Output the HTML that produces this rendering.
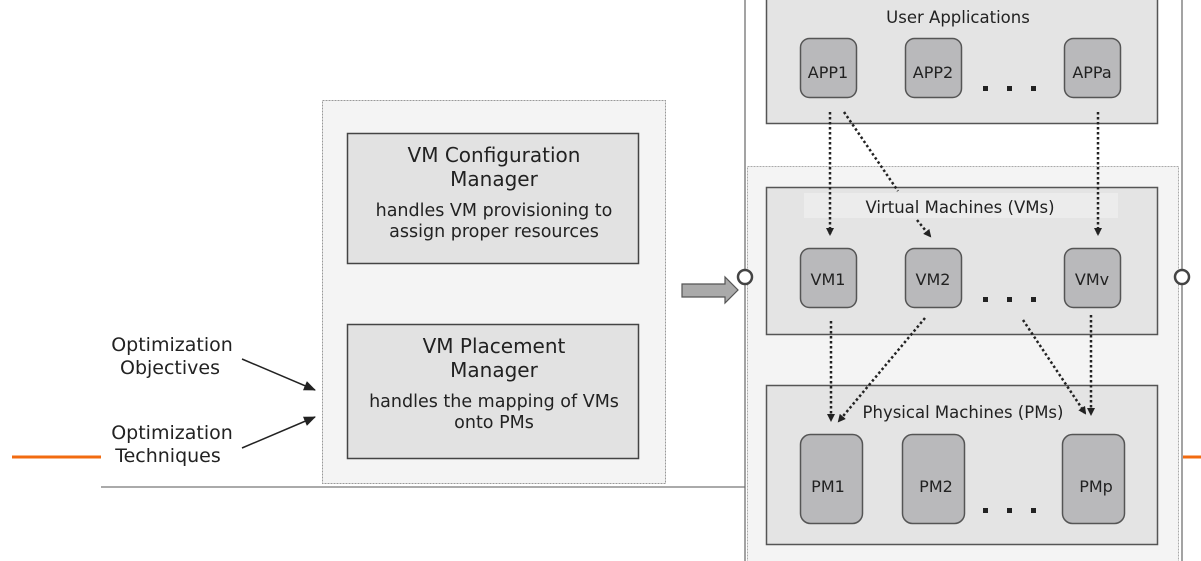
<!DOCTYPE html>
<html><head><meta charset="utf-8"><style>
html,body{margin:0;padding:0;background:#fff;width:1201px;height:561px;overflow:hidden}
svg{display:block}
text{font-family:"DejaVu Sans","Liberation Sans",sans-serif;fill:#222;text-anchor:middle}
</style></head><body>
<svg width="1201" height="561" viewBox="0 0 1201 561" xmlns="http://www.w3.org/2000/svg">
<defs>
<marker id="ah" markerWidth="8" markerHeight="8" refX="6" refY="4" orient="auto" markerUnits="userSpaceOnUse"><path d="M0,0 L8,4 L0,8 z" fill="#222"/></marker>
<marker id="ab" markerWidth="12" markerHeight="10" refX="11" refY="5" orient="auto" markerUnits="userSpaceOnUse"><path d="M0,0 L12,5 L0,10 z" fill="#222"/></marker>
</defs>
<line x1="12" y1="457" x2="101" y2="457" stroke="#f26b10" stroke-width="3"/>
<line x1="1183" y1="457" x2="1201" y2="457" stroke="#f26b10" stroke-width="3"/>
<line x1="101" y1="487" x2="745" y2="487" stroke="#777" stroke-width="1.2"/>
<rect x="322.5" y="100.5" width="343" height="383" fill="#f4f4f4" stroke="#999" stroke-dasharray="2,1"/>
<rect x="347.5" y="133.5" width="291" height="130" fill="#e2e2e2" stroke="#444" stroke-width="1.5"/>
<text x="494" y="162" font-size="20">VM Configuration</text>
<text x="494" y="186" font-size="20">Manager</text>
<text x="494" y="216" font-size="17.5">handles VM provisioning to</text>
<text x="494" y="237" font-size="17.5">assign proper resources</text>
<rect x="347.5" y="324.5" width="291" height="134" fill="#e2e2e2" stroke="#444" stroke-width="1.5"/>
<text x="494" y="353" font-size="20">VM Placement</text>
<text x="494" y="377" font-size="20">Manager</text>
<text x="494" y="407" font-size="17.5">handles the mapping of VMs</text>
<text x="494" y="428" font-size="17.5">onto PMs</text>
<text x="172" y="351" font-size="19">Optimization</text>
<text x="170" y="374" font-size="19">Objectives</text>
<text x="172" y="439" font-size="19">Optimization</text>
<text x="168" y="462" font-size="19">Techniques</text>
<line x1="242" y1="359" x2="315" y2="390" stroke="#222" stroke-width="1.5" marker-end="url(#ab)"/>
<line x1="242" y1="448" x2="315" y2="417" stroke="#222" stroke-width="1.5" marker-end="url(#ab)"/>
<path d="M682,284 L725,284 L725,277 L738,290 L725,303 L725,297 L682,297 z" fill="#aaa" stroke="#555" stroke-width="1.2"/>
<line x1="745" y1="0" x2="745" y2="561" stroke="#666" stroke-width="1.2"/>
<line x1="1182" y1="0" x2="1182" y2="561" stroke="#666" stroke-width="1.2"/>
<rect x="766.5" y="-2" width="391" height="125.5" fill="#e4e4e4" stroke="#555" stroke-width="1.5"/>
<text x="958" y="23" font-size="16.5">User Applications</text>
<rect x="747.5" y="166.5" width="431" height="400" fill="#f4f4f4" stroke="#aaa" stroke-dasharray="2,1"/>
<rect x="766.5" y="187.5" width="391" height="147" fill="#e4e4e4" stroke="#555" stroke-width="1.5"/>
<rect x="804" y="193" width="314" height="25" fill="#ececec"/>
<text x="960" y="213" font-size="16.5">Virtual Machines (VMs)</text>
<rect x="766.5" y="385.5" width="391" height="159" fill="#e4e4e4" stroke="#555" stroke-width="1.5"/>
<text x="963" y="418" font-size="16.5">Physical Machines (PMs)</text>
<circle cx="745" cy="277" r="7" fill="#fff" stroke="#444" stroke-width="2.5"/>
<circle cx="1182" cy="277" r="7" fill="#fff" stroke="#444" stroke-width="2.5"/>
<g fill="#b9b9bb" stroke="#555" stroke-width="1.5">
<rect x="800.5" y="38.5" width="56" height="59" rx="9"/>
<rect x="905.5" y="38.5" width="56" height="59" rx="9"/>
<rect x="1064.5" y="38.5" width="56" height="59" rx="9"/>
<rect x="800.5" y="248.5" width="56" height="59" rx="9"/>
<rect x="905.5" y="248.5" width="56" height="59" rx="9"/>
<rect x="1064.5" y="248.5" width="56" height="59" rx="9"/>
<rect x="800.5" y="434.5" width="62" height="89" rx="10"/>
<rect x="902.5" y="434.5" width="62" height="89" rx="10"/>
<rect x="1062.5" y="434.5" width="62" height="89" rx="10"/>
</g>
<g font-size="16">
<text x="828" y="78">APP1</text><text x="933" y="78">APP2</text><text x="1092" y="78">APPa</text>
<text x="828" y="285">VM1</text><text x="933" y="285">VM2</text><text x="1092" y="285">VMv</text>
<text x="828" y="492">PM1</text><text x="936" y="492">PM2</text><text x="1096" y="492">PMp</text>
</g>
<g fill="#222">
<rect x="983" y="86" width="5" height="5"/><rect x="1007" y="86" width="5" height="5"/><rect x="1031" y="86" width="5" height="5"/>
<rect x="983" y="297" width="5" height="5"/><rect x="1007" y="297" width="5" height="5"/><rect x="1031" y="297" width="5" height="5"/>
<rect x="983" y="508" width="5" height="5"/><rect x="1007" y="508" width="5" height="5"/><rect x="1031" y="508" width="5" height="5"/>
</g>
<g stroke="#222" stroke-width="2.5" stroke-dasharray="2.5,2.5" fill="none">
<line x1="830" y1="112" x2="830" y2="234" marker-end="url(#ah)"/>
<line x1="844" y1="112" x2="898" y2="191"/>
<line x1="917" y1="220" x2="930" y2="236" marker-end="url(#ah)"/>
<line x1="1098" y1="112" x2="1098" y2="234" marker-end="url(#ah)"/>
<line x1="831" y1="321" x2="831" y2="420" marker-end="url(#ah)"/>
<line x1="925" y1="318" x2="839" y2="421" marker-end="url(#ah)"/>
<line x1="1023" y1="320" x2="1085" y2="413" marker-end="url(#ah)"/>
<line x1="1091" y1="315" x2="1091" y2="414" marker-end="url(#ah)"/>
</g>
</svg>
</body></html>
